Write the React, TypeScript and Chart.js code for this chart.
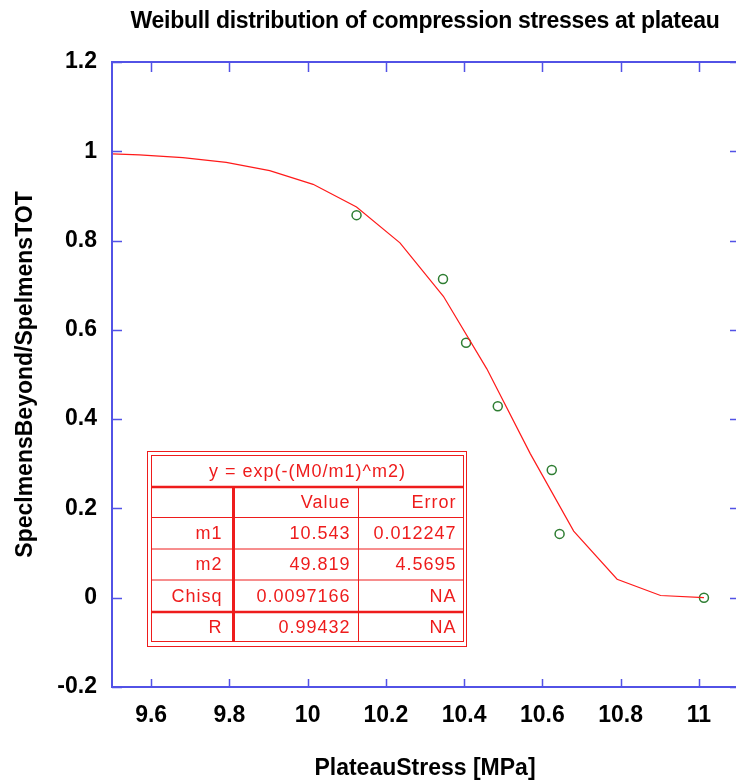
import React, { useEffect, useRef } from 'react';
import { Chart, registerables } from 'chart.js';

Chart.register(...registerables);

const CHART_TITLE = 'Weibull distribution of compression stresses at plateau';
const X_TITLE = 'PlateauStress [MPa]';
const Y_TITLE = 'SpeclmensBeyond/SpelmensTOT';

// measured points
const stressMPa = [10.125, 10.346, 10.405, 10.486, 10.624, 10.644, 11.013];
const fractionBeyond = [0.857, 0.714, 0.571, 0.429, 0.286, 0.143, 0.0];

// fitted curve nodes as drawn
const fitStress = [9.459, 9.57, 9.681, 9.792, 9.903, 10.014, 10.125, 10.236, 10.347, 10.458, 10.569, 10.68, 10.791, 10.902, 11.013];
const fitFraction = [0.9955, 0.992, 0.9858, 0.9751, 0.9568, 0.926, 0.8753, 0.795, 0.6752, 0.5127, 0.3228, 0.1492, 0.0414, 0.005, 0.0002];

const xTicks = [9.6, 9.8, 10, 10.2, 10.4, 10.6, 10.8, 11];
const xTickLabels = ['9.6', '9.8', '10', '10.2', '10.4', '10.6', '10.8', '11'];
const yTicks = [-0.2, 0, 0.2, 0.4, 0.6, 0.8, 1, 1.2];
const yTickLabels = ['-0.2', '0', '0.2', '0.4', '0.6', '0.8', '1', '1.2'];

const fitFormula = 'y = exp(-(M0/m1)^m2)';
const tableColumns = ['', 'Value', 'Error'];
const paramNames = ['m1', 'm2', 'Chisq', 'R'];
const paramValues = ['10.543', '49.819', '0.0097166', '0.99432'];
const paramErrors = ['0.012247', '4.5695', 'NA', 'NA'];

const FONT = "'Liberation Sans', Arial, sans-serif";
const AXIS_BLUE = '#5252e6';
const RED = '#ee1c1c';

const framePlugin = {
  id: 'frame',
  afterDatasetsDraw(chart: any) {
    const { ctx, chartArea: a, scales } = chart;
    const xs = scales.x;
    const ys = scales.y;
    ctx.save();
    ctx.strokeStyle = AXIS_BLUE;
    ctx.lineWidth = 2;
    ctx.strokeRect(a.left, a.top, a.right - a.left, a.bottom - a.top);
    ctx.lineWidth = 1.5;
    ctx.beginPath();
    xTicks.forEach((v) => {
      const px = Math.round(xs.getPixelForValue(v)) + 0.5;
      ctx.moveTo(px, a.bottom);
      ctx.lineTo(px, a.bottom - 8);
      ctx.moveTo(px, a.top);
      ctx.lineTo(px, a.top + 10);
    });
    yTicks.forEach((v) => {
      const py = Math.round(ys.getPixelForValue(v)) + 0.5;
      ctx.moveTo(a.left, py);
      ctx.lineTo(a.left + 10, py);
      ctx.moveTo(a.right, py);
      ctx.lineTo(a.right - 8, py);
    });
    ctx.stroke();
    ctx.restore();

    // parameter table
    const L = a.left;
    const T = a.top;
    const ox0 = L + 35.5, ox1 = L + 354.5, oy0 = T + 389.5, oy1 = T + 584.5;
    const ix0 = L + 39.5, ix1 = L + 351.5, iy0 = T + 393.5, iy1 = T + 579.5;
    const colA = L + 121.5; // thick
    const colB = L + 246.5;
    const rowLines = [T + 425, T + 455.5, T + 487, T + 518, T + 550];
    ctx.save();
    ctx.fillStyle = '#ffffff';
    ctx.fillRect(ox0, oy0, ox1 - ox0, oy1 - oy0);
    ctx.strokeStyle = RED;
    ctx.lineWidth = 1;
    ctx.strokeRect(ox0, oy0, ox1 - ox0, oy1 - oy0);
    ctx.strokeRect(ix0, iy0, ix1 - ix0, iy1 - iy0);
    ctx.beginPath();
    ctx.moveTo(colB, rowLines[0]);
    ctx.lineTo(colB, iy1);
    [1, 2, 3].forEach((i) => {
      ctx.moveTo(ix0, rowLines[i]);
      ctx.lineTo(ix1, rowLines[i]);
    });
    ctx.stroke();
    ctx.lineWidth = 2.5;
    ctx.beginPath();
    ctx.moveTo(ix0, rowLines[0]);
    ctx.lineTo(ix1, rowLines[0]);
    ctx.moveTo(ix0, rowLines[4]);
    ctx.lineTo(ix1, rowLines[4]);
    ctx.stroke();
    ctx.lineWidth = 3;
    ctx.beginPath();
    ctx.moveTo(colA, rowLines[0]);
    ctx.lineTo(colA, iy1);
    ctx.stroke();

    ctx.fillStyle = RED;
    ctx.font = `18px ${FONT}`;
    (ctx as any).letterSpacing = '1px';
    ctx.textBaseline = 'middle';
    ctx.textAlign = 'center';
    ctx.fillText(fitFormula, (ix0 + ix1) / 2, (iy0 + rowLines[0]) / 2 + 1);
    ctx.textAlign = 'right';
    const rights = [colA - 11, colB - 8, ix1 - 7];
    const rowMid = (i: number) => {
      const top = rowLines[i];
      const bot = i + 1 < rowLines.length ? rowLines[i + 1] : iy1;
      return (top + bot) / 2 + 1;
    };
    tableColumns.forEach((t, c) => {
      if (t) ctx.fillText(t, rights[c], rowMid(0));
    });
    paramNames.forEach((n, r) => {
      const y = rowMid(r + 1);
      ctx.fillText(n, rights[0], y);
      ctx.fillText(paramValues[r], rights[1], y);
      ctx.fillText(paramErrors[r], rights[2], y);
    });
    ctx.restore();
  },
  afterDraw(chart: any) {
    const { ctx, chartArea: a } = chart;
    ctx.save();
    ctx.fillStyle = '#000';
    ctx.font = `bold 23px ${FONT}`;
    (ctx as any).letterSpacing = '-0.3px';
    ctx.textAlign = 'center';
    ctx.textBaseline = 'middle';
    ctx.fillText(CHART_TITLE, (a.left + a.right) / 2, 22);
    ctx.restore();
  },
};

export default function App() {
  const ref = useRef<HTMLCanvasElement | null>(null);

  useEffect(() => {
    if (!ref.current) return;
    const chart = new Chart(ref.current, {
      type: 'scatter',
      data: {
        datasets: [
          {
            type: 'line',
            label: 'fit',
            data: fitStress.map((x, i) => ({ x, y: fitFraction[i] })),
            borderColor: '#ff1a1a',
            borderWidth: 1.2,
            pointRadius: 0,
            tension: 0,
            fill: false,
          } as any,
          {
            type: 'scatter',
            label: 'data',
            data: stressMPa.map((x, i) => ({ x, y: fractionBeyond[i] })),
            borderColor: '#2e7d32',
            backgroundColor: 'rgba(0,0,0,0)',
            borderWidth: 1.5,
            pointRadius: 4.5,
            pointHoverRadius: 4.5,
          },
        ],
      },
      options: {
        animation: false,
        responsive: false,
        events: [],
        layout: { padding: { top: 62, right: 4, left: 0, bottom: 0 } },
        plugins: {
          legend: { display: false },
          tooltip: { enabled: false },
          title: { display: false },
        },
        scales: {
          x: {
            type: 'linear',
            min: 9.5,
            max: 11.1,
            grid: { display: false, drawTicks: false },
            border: { display: false },
            afterBuildTicks: (s: any) => {
              s.ticks = xTicks.map((v) => ({ value: v }));
            },
            afterFit: (s: any) => {
              s.height = 95;
            },
            ticks: {
              autoSkip: false,
              maxRotation: 0,
              padding: 15,
              color: '#000',
              font: { family: FONT, size: 23, weight: 'bold' },
              callback: (_v: any, i: number) => xTickLabels[i],
            },
            title: {
              display: true,
              text: X_TITLE,
              color: '#000',
              font: { family: FONT, size: 23, weight: 'bold' },
              padding: { top: 0, bottom: 0 },
            },
          },
          y: {
            type: 'linear',
            min: -0.2,
            max: 1.2,
            grid: { display: false, drawTicks: false },
            border: { display: false },
            afterBuildTicks: (s: any) => {
              s.ticks = yTicks.map((v) => ({ value: v }));
            },
            afterFit: (s: any) => {
              s.width = 112;
            },
            ticks: {
              autoSkip: false,
              padding: 15,
              color: '#000',
              font: { family: FONT, size: 23, weight: 'bold' },
              callback: (_v: any, i: number) => yTickLabels[i],
            },
            title: {
              display: true,
              text: Y_TITLE,
              color: '#000',
              font: { family: FONT, size: 23, weight: 'bold' },
              padding: { top: 12, bottom: 0 },
            },
          },
        },
      },
      plugins: [framePlugin],
    });
    return () => chart.destroy();
  }, []);

  return (
    <div
      style={{
        position: 'fixed',
        left: 0,
        top: 0,
        width: 736,
        height: 782,
        overflow: 'hidden',
        background: '#fff',
      }}
    >
      <canvas ref={ref} width={744} height={782} style={{ width: 744, height: 782, display: 'block' }} />
    </div>
  );
}
